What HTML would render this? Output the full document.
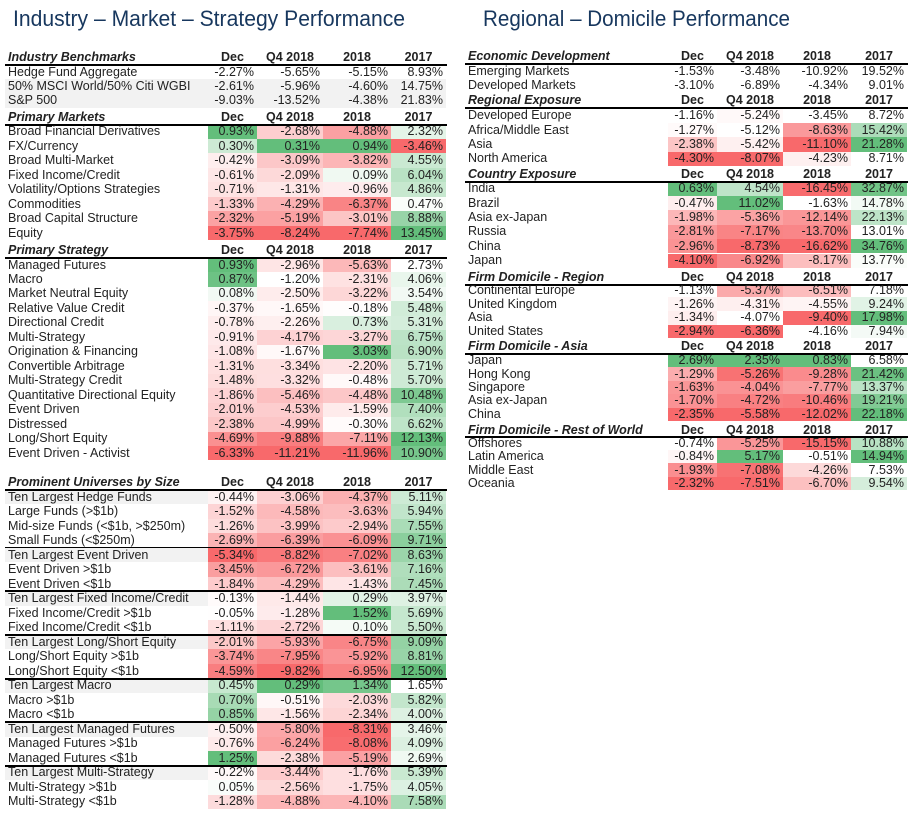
<!DOCTYPE html>
<html><head><meta charset="utf-8">
<style>
html,body{margin:0;padding:0;background:#fff;}
#root{position:relative;width:915px;height:822px;overflow:hidden;font-family:"Liberation Sans",Arial,sans-serif;font-size:12.5px;color:#222;}
.c{position:absolute;white-space:nowrap;line-height:15px;z-index:3;}
.h{font-weight:bold;font-style:italic;}
.hc{font-weight:bold;text-align:center;}
.v{text-align:right;}
.ln{position:absolute;background:#000;z-index:2;}
.bg{position:absolute;z-index:1;}
</style></head>
<body>
<div id="root">
<svg width="915" height="40" style="position:absolute;left:0;top:0">
<text x="13" y="26" font-family="Liberation Sans, sans-serif" font-size="22" fill="#17375E" textLength="392" lengthAdjust="spacingAndGlyphs">Industry – Market – Strategy Performance</text>
<text x="483" y="26" font-family="Liberation Sans, sans-serif" font-size="22" fill="#17375E" textLength="307" lengthAdjust="spacingAndGlyphs">Regional – Domicile Performance</text>
</svg>
</div>
<script>
// ---- data ----
const colHeaders=["Dec","Q4 2018","2018","2017"];
const ibLabels=["Hedge Fund Aggregate","50% MSCI World/50% Citi WGBI","S&P 500"];
const ibValues=[[-2.27,-5.65,-5.15,8.93],[-2.61,-5.96,-4.60,14.75],[-9.03,-13.52,-4.38,21.83]];
const pmLabels=["Broad Financial Derivatives","FX/Currency","Broad Multi-Market","Fixed Income/Credit","Volatility/Options Strategies","Commodities","Broad Capital Structure","Equity"];
const pmValues=[[0.93,-2.68,-4.88,2.32],[0.30,0.31,0.94,-3.46],[-0.42,-3.09,-3.82,4.55],[-0.61,-2.09,0.09,6.04],[-0.71,-1.31,-0.96,4.86],[-1.33,-4.29,-6.37,0.47],[-2.32,-5.19,-3.01,8.88],[-3.75,-8.24,-7.74,13.45]];
const psLabels=["Managed Futures","Macro","Market Neutral Equity","Relative Value Credit","Directional Credit","Multi-Strategy","Origination & Financing","Convertible Arbitrage","Multi-Strategy Credit","Quantitative Directional Equity","Event Driven","Distressed","Long/Short Equity","Event Driven - Activist"];
const psValues=[[0.93,-2.96,-5.63,2.73],[0.87,-1.20,-2.31,4.06],[0.08,-2.50,-3.22,3.54],[-0.37,-1.65,-0.18,5.48],[-0.78,-2.26,0.73,5.31],[-0.91,-4.17,-3.27,6.75],[-1.08,-1.67,3.03,6.90],[-1.31,-3.34,-2.20,5.71],[-1.48,-3.32,-0.48,5.70],[-1.86,-5.46,-4.48,10.48],[-2.01,-4.53,-1.59,7.40],[-2.38,-4.99,-0.30,6.62],[-4.69,-9.88,-7.11,12.13],[-6.33,-11.21,-11.96,10.90]];
const puLabels=["Ten Largest Hedge Funds","Large Funds (>$1b)","Mid-size Funds (<$1b, >$250m)","Small Funds (<$250m)","Ten Largest Event Driven","Event Driven >$1b","Event Driven <$1b","Ten Largest Fixed Income/Credit","Fixed Income/Credit >$1b","Fixed Income/Credit <$1b","Ten Largest Long/Short Equity","Long/Short Equity >$1b","Long/Short Equity <$1b","Ten Largest Macro","Macro >$1b","Macro <$1b","Ten Largest Managed Futures","Managed Futures >$1b","Managed Futures <$1b","Ten Largest Multi-Strategy","Multi-Strategy >$1b","Multi-Strategy <$1b"];
const puValues=[[-0.44,-3.06,-4.37,5.11],[-1.52,-4.58,-3.63,5.94],[-1.26,-3.99,-2.94,7.55],[-2.69,-6.39,-6.09,9.71],[-5.34,-8.82,-7.02,8.63],[-3.45,-6.72,-3.61,7.16],[-1.84,-4.29,-1.43,7.45],[-0.13,-1.44,0.29,3.97],[-0.05,-1.28,1.52,5.69],[-1.11,-2.72,0.10,5.50],[-2.01,-5.93,-6.75,9.09],[-3.74,-7.95,-5.92,8.81],[-4.59,-9.82,-6.95,12.50],[0.45,0.29,1.34,1.65],[0.70,-0.51,-2.03,5.82],[0.85,-1.56,-2.34,4.00],[-0.50,-5.80,-8.31,3.46],[-0.76,-6.24,-8.08,4.09],[1.25,-2.38,-5.19,2.69],[-0.22,-3.44,-1.76,5.39],[0.05,-2.56,-1.75,4.05],[-1.28,-4.88,-4.10,7.58]];
const edLabels=["Emerging Markets","Developed Markets"];
const edValues=[[-1.53,-3.48,-10.92,19.52],[-3.10,-6.89,-4.34,9.01]];
const reLabels=["Developed Europe","Africa/Middle East","Asia","North America"];
const reValues=[[-1.16,-5.24,-3.45,8.72],[-1.27,-5.12,-8.63,15.42],[-2.38,-5.42,-11.10,21.28],[-4.30,-8.07,-4.23,8.71]];
const ceLabels=["India","Brazil","Asia ex-Japan","Russia","China","Japan"];
const ceValues=[[0.63,4.54,-16.45,32.87],[-0.47,11.02,-1.63,14.78],[-1.98,-5.36,-12.14,22.13],[-2.81,-7.17,-13.70,13.01],[-2.96,-8.73,-16.62,34.76],[-4.10,-6.92,-8.17,13.77]];
const fdrLabels=["Continental Europe","United Kingdom","Asia","United States"];
const fdrValues=[[-1.13,-5.37,-6.51,7.18],[-1.26,-4.31,-4.55,9.24],[-1.34,-4.07,-9.40,17.98],[-2.94,-6.36,-4.16,7.94]];
const fdaLabels=["Japan","Hong Kong","Singapore","Asia ex-Japan","China"];
const fdaValues=[[2.69,2.35,0.83,6.58],[-1.29,-5.26,-9.28,21.42],[-1.63,-4.04,-7.77,13.37],[-1.70,-4.72,-10.46,19.21],[-2.35,-5.58,-12.02,22.18]];
const rowLabels=["Offshores","Latin America","Middle East","Oceania"];
const rowValues=[[-0.74,-5.25,-15.15,10.88],[-0.84,5.17,-0.51,14.94],[-1.93,-7.08,-4.26,7.53],[-2.32,-7.51,-6.70,9.54]];

// ---- layout ----
const root=document.getElementById('root');
const leftCols=[[208,257],[257,323],[323,391],[391,446]];
const rightCols=[[668,717],[717,783],[783,851],[851,907]];
function mix(a,b,t){return 'rgb('+a.map((x,i)=>Math.round(x+(b[i]-x)*t)).join(',')+')';}
const W=[255,255,255],R=[248,105,107],G=[99,190,123];
function colorFor(v,col){
  const mn=Math.min(...col),mx=Math.max(...col);
  if(v<0){const hi=Math.min(mx,0);if(mn===hi)return null;const t=(hi-v)/(hi-mn);return mix(W,R,Math.max(0,Math.min(1,t)));}
  const lo=Math.max(mn,0);if(mx===lo)return null;const t=(v-lo)/(mx-lo);return mix(W,G,Math.max(0,Math.min(1,t)));
}
function add(cls,x,y,w,h,txt,name,inter){
  const d=document.createElement('div');d.className=cls;
  d.style.left=x+'px';d.style.top=y+'px';if(w!=null)d.style.width=w+'px';if(h!=null)d.style.height=h+'px';
  if(txt!=null)d.textContent=txt;
  
  
  root.appendChild(d);return d;
}
function section(o){
  const cols=o.side==='L'?leftCols:rightCols;
  const x0=o.side==='L'?5:465, x1=o.side==='L'?447:908, lx=o.side==='L'?8:468;
  add('c h',lx,o.hy-7.5,null,null,o.title,'section-title');
  colHeaders.forEach((t,i)=>{add('c hc',cols[i][0],o.hy-7.5,cols[i][1]-cols[i][0],null,t,'column-header');});
  add('ln',x0,o.ly-1,x1-x0,2,null,'header-rule');
  const colVals=[0,1,2,3].map(j=>o.values.map(r=>r[j]));
  o.labels.forEach((lab,i)=>{
    const cy=o.ry+i*o.step, top=cy-o.step/2;
    if(o.grayFull&&o.grayFull.includes(i)){add('bg',x0,top,cols[3][1]-x0,o.step,null,'row-shade').style.background='#f2f2f2';}
    if(o.grayLabel&&o.grayLabel.includes(i)){add('bg',x0,top,cols[0][0]-x0,o.step,null,'label-shade').style.background='#f2f2f2';}
    add('c',lx,cy-7.5,null,null,lab,'row-label');
    o.values[i].forEach((v,j)=>{
      if(o.colored){const c=colorFor(v,colVals[j]);if(c){add('bg',cols[j][0],top,cols[j][1]-cols[j][0],o.step,null,'heat-cell').style.background=c;}}
      add('c v',cols[j][0],cy-7.5,cols[j][1]-cols[j][0]-3,null,v.toFixed(2)+'%','value-cell');
    });
  });
  (o.groupLines||[]).forEach(g=>{
    const y=o.ry+(g[0]+0.5)*o.step;
    add('ln',x0,y-g[1]/2,x1-x0,g[1],null,'group-rule');
  });
}
section({side:'L',title:'Industry Benchmarks',labels:ibLabels,values:ibValues,hy:57,ly:64.5,ry:72,step:14.4,colored:false,grayFull:[1,2]});
section({side:'L',title:'Primary Markets',labels:pmLabels,values:pmValues,hy:117.7,ly:124.5,ry:131.7,step:14.5,colored:true});
section({side:'L',title:'Primary Strategy',labels:psLabels,values:psValues,hy:250.5,ly:257.5,ry:265,step:14.48,colored:true});
section({side:'L',title:'Prominent Universes by Size',labels:puLabels,values:puValues,hy:482.7,ly:490,ry:497,step:14.52,colored:true,grayLabel:[0,4,7,10,13,16,19],groupLines:[[3,1.2],[6,2],[9,2],[12,2],[15,2],[18,2]]});
section({side:'R',title:'Economic Development',labels:edLabels,values:edValues,hy:56.7,ly:64,ry:71,step:14.6,colored:false});
section({side:'R',title:'Regional Exposure',labels:reLabels,values:reValues,hy:100.7,ly:108,ry:115.7,step:14.4,colored:true});
section({side:'R',title:'Country Exposure',labels:ceLabels,values:ceValues,hy:174.7,ly:182,ry:188.7,step:14.4,colored:true});
section({side:'R',title:'Firm Domicile - Region',labels:fdrLabels,values:fdrValues,hy:277.3,ly:284.5,ry:290.7,step:13.55,colored:true});
section({side:'R',title:'Firm Domicile - Asia',labels:fdaLabels,values:fdaValues,hy:346.7,ly:354,ry:360.7,step:13.4,colored:true});
section({side:'R',title:'Firm Domicile - Rest of World',labels:rowLabels,values:rowValues,hy:430,ly:437,ry:443.3,step:13.45,colored:true});
</script>
</body></html>
